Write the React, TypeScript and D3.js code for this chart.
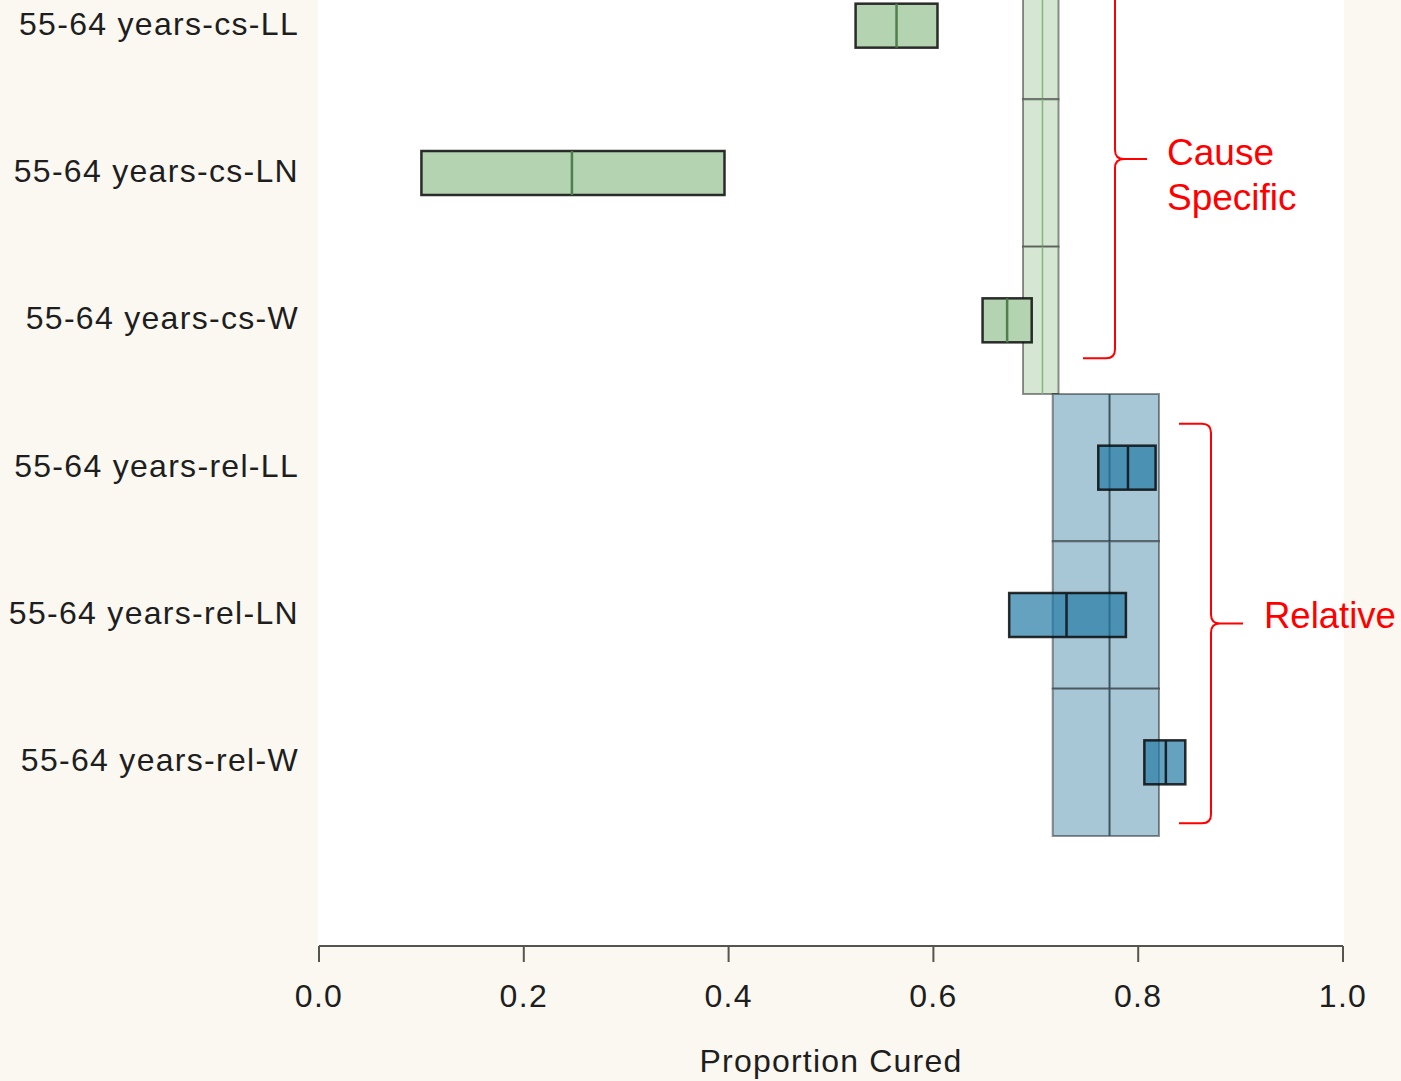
import React from "react";
import * as d3 from "d3";

// Proportion cured by model, ages 55-64
const categories = [
  "55-64 years-cs-LL",
  "55-64 years-cs-LN",
  "55-64 years-cs-W",
  "55-64 years-rel-LL",
  "55-64 years-rel-LN",
  "55-64 years-rel-W",
];
const groups = ["cs", "cs", "cs", "rel", "rel", "rel"];
const lower = [0.524, 0.1, 0.648, 0.761, 0.674, 0.806];
const estimate = [0.564, 0.247, 0.672, 0.79, 0.73, 0.827];
const upper = [0.604, 0.396, 0.696, 0.817, 0.788, 0.846];

// pooled reference interval per group: [lower, estimate, upper]
const pooledCs = [0.6875, 0.7065, 0.7222];
const pooledRel = [0.7165, 0.772, 0.8203];

const xTicks = [0, 0.2, 0.4, 0.6, 0.8, 1.0];
const xTitle = "Proportion Cured";

const W = 1401;
const H = 1081;
const FONT = "'Liberation Sans', Arial, Helvetica, sans-serif";

const palette = {
  cs: {
    band: "#d5e7d3",
    bandMid: "#86b282",
    box: "#b3d3b1",
    boxMid: "#4f7f4f",
  },
  rel: {
    band: "#a7c7d7",
    bandMid: "#3e5560",
    box: "rgba(36,122,165,0.7)",
    boxMid: "#15232b",
  },
};

function brace(x: number, y0: number, y1: number, arm: number, r: number) {
  const ym = (y0 + y1) / 2;
  return [
    `M${x - arm},${y0} L${x - r},${y0} Q${x},${y0} ${x},${y0 + r}`,
    `L${x},${ym - r} Q${x},${ym} ${x + r},${ym} L${x + arm},${ym}`,
    `M${x + r},${ym} Q${x},${ym} ${x},${ym + r}`,
    `L${x},${y1 - r} Q${x},${y1} ${x - r},${y1} L${x - arm},${y1}`,
  ].join(" ");
}

export default function App() {
  const x = d3.scaleLinear().domain([0, 1]).range([319, 1343]);
  const y = d3.scaleBand<string>().domain(categories).range([-48, 836]);
  const bw = y.bandwidth();
  const boxH = 44;
  const plotBottom = 945;
  const axisY = 946;

  const rows = categories.map((c, i) => ({
    cat: c,
    g: groups[i] as "cs" | "rel",
    lo: lower[i],
    est: estimate[i],
    hi: upper[i],
  }));

  const csRows = rows.filter((r) => r.g === "cs");
  const relRows = rows.filter((r) => r.g === "rel");
  const csTop = y(csRows[0].cat)! + bw / 2;
  const csBot = y(csRows[csRows.length - 1].cat)! + bw / 2;
  const relTop = y(relRows[0].cat)! + bw / 2;
  const relBot = y(relRows[relRows.length - 1].cat)! + bw / 2;

  const bandCells = (rs: typeof rows, p: number[]) =>
    rs.map((r) => {
      const g = r.g;
      const y0 = y(r.cat)!;
      return (
        <g key={"band-" + r.cat}>
          <rect
            x={x(p[0])}
            y={y0}
            width={x(p[2]) - x(p[0])}
            height={bw}
            fill={palette[g].band}
            stroke="rgba(0,0,0,0.42)"
            strokeWidth={2}
          />
          <line
            x1={x(p[1])}
            x2={x(p[1])}
            y1={y0}
            y2={y0 + bw}
            stroke={palette[g].bandMid}
            strokeWidth={g === "cs" ? 1.5 : 2}
          />
        </g>
      );
    });

  return (
    <svg
      width={W}
      height={H}
      style={{ position: "absolute", left: 0, top: 0, display: "block" }}
      fontFamily={FONT}
    >
      <rect x={0} y={0} width={W} height={H} fill="#fbf8f1" />
      <rect x={318} y={0} width={1344 - 318} height={plotBottom} fill="#ffffff" />

      {/* pooled intervals */}
      {bandCells(csRows, pooledCs)}
      {bandCells(relRows, pooledRel)}

      {/* per-model intervals */}
      {rows.map((r) => {
        const cy = y(r.cat)! + bw / 2;
        const p = palette[r.g];
        return (
          <g key={"box-" + r.cat}>
            <rect
              x={x(r.lo)}
              y={cy - boxH / 2}
              width={x(r.hi) - x(r.lo)}
              height={boxH}
              fill={p.box}
              stroke="rgba(10,10,10,0.85)"
              strokeWidth={2.5}
            />
            <line
              x1={x(r.est)}
              x2={x(r.est)}
              y1={cy - boxH / 2}
              y2={cy + boxH / 2}
              stroke={p.boxMid}
              strokeWidth={2.5}
            />
          </g>
        );
      })}

      {/* category labels */}
      {rows.map((r) => (
        <text
          key={"lab-" + r.cat}
          x={299}
          y={y(r.cat)! + bw / 2 + 9}
          textAnchor="end"
          fontSize={32}
          letterSpacing={1.3}
          fill="#1e1e1e"
        >
          {r.cat}
        </text>
      ))}

      {/* x axis */}
      <line x1={x(0)} x2={x(1)} y1={axisY} y2={axisY} stroke="#55554d" strokeWidth={2} />
      {xTicks.map((t) => (
        <g key={"t" + t}>
          <line x1={x(t)} x2={x(t)} y1={axisY} y2={axisY + 16} stroke="#55554d" strokeWidth={2} />
          <text
            x={x(t)}
            y={1007}
            textAnchor="middle"
            fontSize={32}
            letterSpacing={1.3}
            fill="#1e1e1e"
          >
            {d3.format(".1f")(t)}
          </text>
        </g>
      ))}
      <text
        x={(x(0) + x(1)) / 2}
        y={1072}
        textAnchor="middle"
        fontSize={32}
        letterSpacing={1.2}
        fill="#1e1e1e"
      >
        {xTitle}
      </text>

      {/* group braces */}
      <path
        d={brace(1115, csTop - 66, csBot + 38, 32, 9)}
        fill="none"
        stroke="#ff0000"
        strokeWidth={2}
      />
      <text x={1167} y={165} fontSize={37} fill="#ff0000">
        Cause
      </text>
      <text x={1167} y={210} fontSize={37} fill="#ff0000">
        Specific
      </text>
      <path
        d={brace(1211, relTop - 44, relBot + 61, 32, 9)}
        fill="none"
        stroke="#ff0000"
        strokeWidth={2}
      />
      <text x={1264} y={628} fontSize={36.5} fill="#ff0000">
        Relative
      </text>
    </svg>
  );
}
